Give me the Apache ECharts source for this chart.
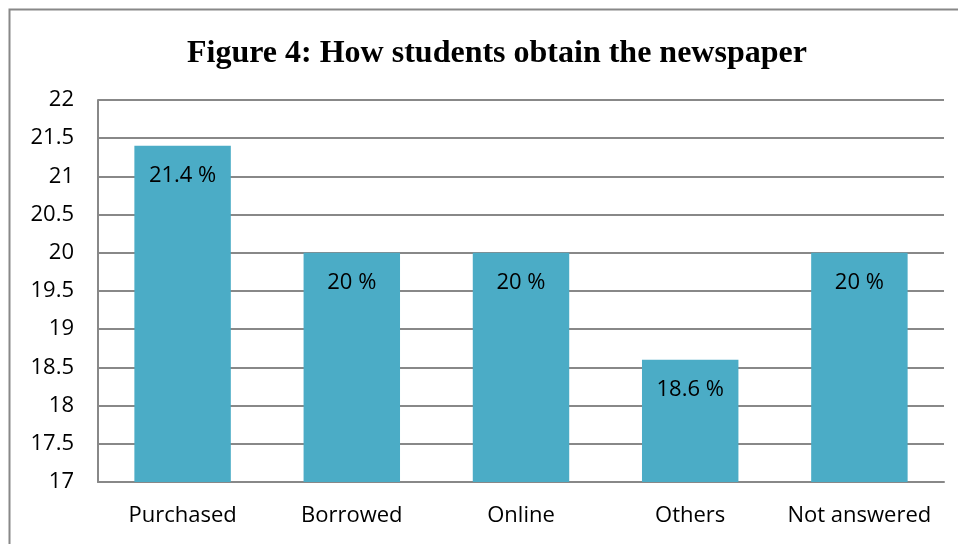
<!DOCTYPE html>
<html>
<head>
<meta charset="utf-8">
<script src="https://cdn.jsdelivr.net/npm/echarts@6/dist/echarts.min.js"></script>
<style>
  html, body { margin: 0; padding: 0; background: #fff; }
  #chart { width: 958px; height: 544px; }
</style>
</head>
<body>
<div id="chart"></div>
<script>
  // chart data
  const categories = ['Purchased', 'Borrowed', 'Online', 'Others', 'Not answered'];
  const shares = [21.4, 20, 20, 18.6, 20];
  const titleText = 'Figure 4: How students obtain the newspaper';

  const chart = echarts.init(document.getElementById('chart'));
  const bodyFont = 'Open Sans';

  chart.setOption({
    animation: false,
    title: {
      text: titleText,
      left: 182,
      top: 33,
      textStyle: {
        fontFamily: 'Liberation Serif',
        fontWeight: 'bold',
        fontSize: 32,
        color: '#000'
      }
    },
    graphic: [{
      type: 'rect',
      shape: { x: 9.5, y: 9.5, width: 960, height: 560 },
      style: { fill: 'none', stroke: '#888', lineWidth: 2 },
      silent: true
    }],
    grid: { left: 98, right: 14, top: 100, bottom: 62 },
    xAxis: {
      type: 'category',
      data: categories,
      axisLine: { lineStyle: { color: '#888', width: 2 } },
      axisTick: { show: false },
      axisLabel: { color: '#000', fontFamily: bodyFont, fontSize: 22, margin: 23, interval: 0 }
    },
    yAxis: {
      type: 'value',
      min: 17,
      max: 22,
      interval: 0.5,
      axisLine: { show: true, lineStyle: { color: '#888', width: 2 } },
      axisTick: { show: false },
      splitLine: { lineStyle: { color: '#888', width: 2 } },
      axisLabel: { color: '#000', fontFamily: bodyFont, fontSize: 22, margin: 24 }
    },
    series: [{
      type: 'bar',
      data: shares,
      barWidth: '57%',
      itemStyle: { color: '#4bacc6' },
      label: {
        show: true,
        position: 'insideTop',
        distance: 19,
        color: '#000',
        fontFamily: bodyFont,
        fontSize: 22,
        formatter: p => p.value + ' %'
      }
    }]
  });
</script>
</body>
</html>
